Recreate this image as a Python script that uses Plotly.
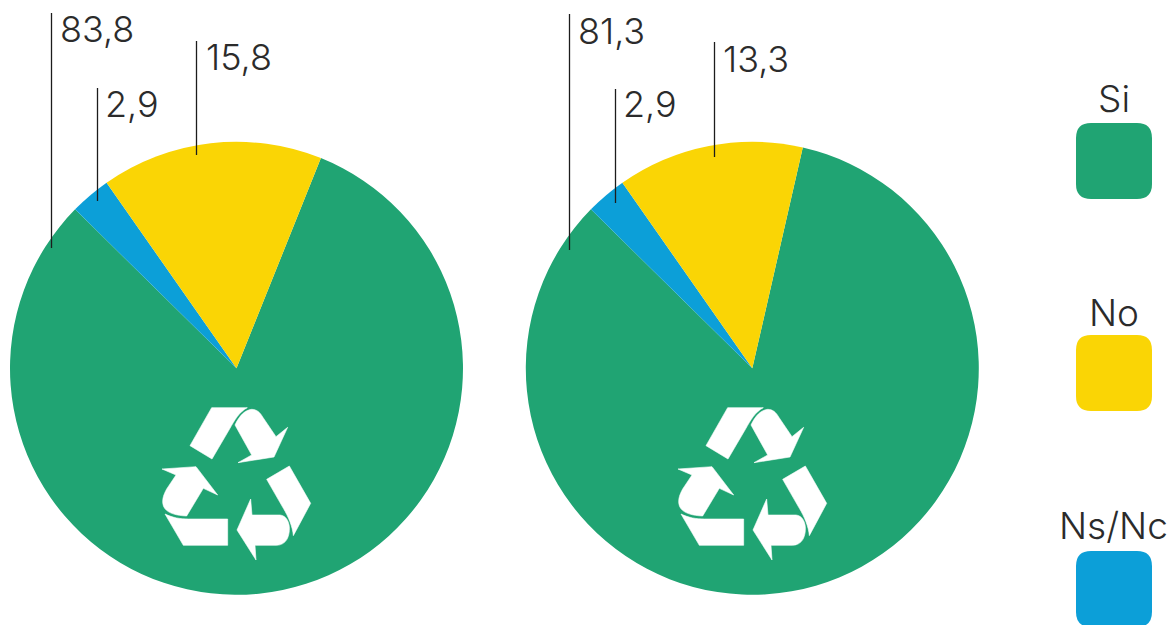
import plotly.graph_objects as go

W, H = 1171, 625

# ---- data ----
# clockwise order in which the slices appear, starting at the right edge of No
categories = ["Si", "Ns/Nc", "No"]
colors = ["#20A473", "#0C9FD8", "#FAD505"]
# Slice sizes as drawn in the picture
left_values = [81.3, 2.9, 15.8]
right_values = [83.8, 2.9, 13.3]
# Printed labels, as printed in the picture
left_labels = ["83,8", "2,9", "15,8"]
right_labels = ["81,3", "2,9", "13,3"]
legend_order = [0, 2, 1]

FONT = "Inter"
TEXT = "#2b2b2b"
LINE = "#1c1c1c"
R = 226.5
CY = 368.3
centers = [236.5, 752.3]
BOUNDARY = -35.0  # angle of the No / Ns-Nc boundary


def px(x):
    return x / W


def py(y):
    return 1 - y / H


def path(cmds):
    """cmds: list of (letter, x1, y1, x2, y2, ...) in pixel coords."""
    out = []
    for c in cmds:
        if c[0] == "Z":
            out.append("Z")
            continue
        pts = c[1:]
        coords = []
        for i in range(0, len(pts), 2):
            coords.append(f"{px(pts[i]):.5f},{py(pts[i + 1]):.5f}")
        out.append(c[0] + " ".join(coords))
    return " ".join(out)


# recycling icon outlines, in crop units (3x) relative to its top-left corner
ICON = [
    [("M", 185, 38), ("L", 292, 38), ("C", 268, 50, 252, 78, 240, 100), ("L", 186, 192), ("L", 120, 152), ("Z",)],
    [("M", 255, 90), ("C", 268, 62, 285, 45, 305, 43), ("C", 320, 43, 330, 52, 338, 66), ("L", 378, 125), ("L", 413, 97),
     ("L", 372, 186), ("L", 264, 203), ("L", 305, 180), ("Z",)],
    [("M", 350, 253), ("L", 418, 213), ("L", 482, 325), ("L", 430, 422), ("C", 428, 395, 415, 365, 400, 340), ("Z",)],
    [("M", 302, 312), ("L", 306, 360), ("L", 390, 360), ("C", 408, 362, 416, 378, 418, 395), ("C", 420, 425, 408, 450, 380, 451),
     ("L", 315, 451), ("L", 318, 495), ("L", 261, 405), ("Z",)],
    [("M", 45, 357), ("C", 68, 368, 90, 372, 115, 372), ("L", 233, 372), ("L", 233, 451), ("L", 100, 451), ("Z",)],
    [("M", 36, 222), ("L", 138, 215), ("L", 203, 300), ("L", 160, 280), ("L", 110, 363), ("C", 80, 362, 55, 355, 44, 340),
     ("C", 32, 322, 40, 300, 50, 282), ("L", 78, 240), ("Z",)],
]

shapes = []
annotations = []

for offset in (0, 516):
    ox, oy = offset + 150, 395
    for piece in ICON:
        cmds = []
        for c in piece:
            if c[0] == "Z":
                cmds.append(c)
            else:
                vals = c[1:]
                conv = []
                for i in range(0, len(vals), 2):
                    conv += [ox + vals[i] / 3, oy + vals[i + 1] / 3]
                cmds.append((c[0], *conv))
        shapes.append(dict(type="path", xref="paper", yref="paper", path=path(cmds),
                           fillcolor="#FFFFFF", line=dict(width=0.6, color="#FFFFFF"), layer="above"))

# leader lines: x, top, bottom
leaders = [(51.5, 13, 248), (97.5, 88, 201), (196.5, 41, 155),
           (569.5, 14, 250), (615.5, 89, 203), (714.5, 42, 157)]
for x, y0, y1 in leaders:
    shapes.append(dict(type="line", xref="paper", yref="paper", x0=px(x), x1=px(x), y0=py(y0), y1=py(y1),
                       line=dict(color=LINE, width=1.3), layer="above"))

# value labels: text, left x, centre y
label_pos = [(left_labels[0], 58, 29), (left_labels[1], 103, 104), (left_labels[2], 204, 57),
             (right_labels[0], 576, 31), (right_labels[1], 621, 104), (right_labels[2], 721, 59)]
for t, x, y in label_pos:
    annotations.append(dict(text=t, xref="paper", yref="paper", x=px(x), y=py(y), xanchor="left", yanchor="middle",
                            showarrow=False, font=dict(family=FONT, size=36, color=TEXT, weight=300)))

# legend
legend_y = [(123, 98), (335, 312), (551, 525)]
for idx, (top, ty) in zip(legend_order, legend_y):
    name, col = categories[idx], colors[idx]
    x0, x1, y0, y1, r = 1076, 1152, top, top + 76, 15
    d = path([("M", x0 + r, y0), ("L", x1 - r, y0), ("Q", x1, y0, x1, y0 + r), ("L", x1, y1 - r), ("Q", x1, y1, x1 - r, y1),
              ("L", x0 + r, y1), ("Q", x0, y1, x0, y1 - r), ("L", x0, y0 + r), ("Q", x0, y0, x0 + r, y0), ("Z",)])
    shapes.append(dict(type="path", xref="paper", yref="paper", path=d, fillcolor=col, line=dict(width=0), layer="above"))
    annotations.append(dict(text=name, xref="paper", yref="paper", x=px(1113.5), y=py(ty), xanchor="center", yanchor="middle",
                            showarrow=False, font=dict(family=FONT, size=37, color=TEXT, weight=300)))

fig = go.Figure()
for cx, values in zip(centers, [left_values, right_values]):
    fig.add_trace(go.Pie(
        labels=categories, values=values, sort=False, direction="clockwise",
        # Si starts where No ends
        rotation=BOUNDARY + values[2] * 3.6,
        marker=dict(colors=colors, line=dict(width=0)),
        textinfo="none", showlegend=False, hole=0,
        domain=dict(x=[px(cx - R), px(cx + R)], y=[py(CY + R), py(CY - R)]),
    ))

fig.update_layout(width=W, height=H, margin=dict(l=0, r=0, t=0, b=0), paper_bgcolor="#FFFFFF",
                  shapes=shapes, annotations=annotations, showlegend=False)
fig.write_html("out.html", post_script="document.body.style.margin='0';", config=dict(displayModeBar=False))
